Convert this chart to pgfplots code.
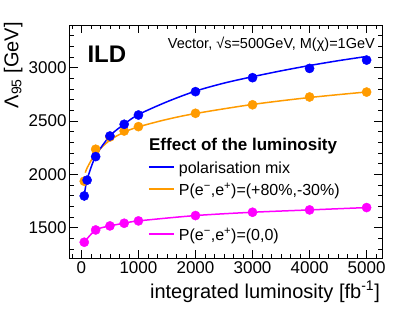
\documentclass[border=0pt]{standalone}
\usepackage{pgfplots}
\pgfplotsset{compat=1.18}
\usepackage{fontspec}
\setmainfont{Liberation Sans}
\definecolor{myblue}{RGB}{0,0,255}
\definecolor{myorange}{RGB}{255,155,0}
\definecolor{mymag}{RGB}{255,0,255}
\begin{document}
\begin{tikzpicture}
\path[use as bounding box] (-70pt,-59pt) rectangle (345pt,258pt);
\begin{axis}[
  scale only axis, width=312pt, height=233pt,
  xmin=-200, xmax=5270, ymin=1215, ymax=3400,
  xtick={-1000,0,1000,...,6000}, ytick={1000,1500,...,3500},
  minor x tick num=5, minor y tick num=4,
  major tick length=8pt, minor tick length=4pt,
  tick align=inside, tick pos=both,
  axis line style={line width=1pt},
  every tick/.style={line width=0.8pt, black},
  tick label style={font=\fontsize{17}{17}\selectfont},
  /pgf/number format/assume math mode=true,
  /pgf/number format/1000 sep={},
  xlabel={integrated luminosity [fb\textsuperscript{-1}]},
  xlabel style={at={(axis description cs:0.9936,-0.1717)}, anchor=base east, inner sep=0pt, font=\fontsize{20}{20}\selectfont},
  ylabel={Λ\textsubscript{95} [GeV]},
  ylabel style={at={(axis description cs:-0.1657,1.013)}, anchor=base east, inner sep=0pt, font=\fontsize{20}{20}\selectfont},
  legend style={draw=none, fill=none, at={(axis description cs:0.249,0.429)}, anchor=north west, inner sep=0pt,
    font=\fontsize{16}{16}\selectfont, cells={anchor=west},
    nodes={inner xsep=4pt, inner ysep=3.25pt, text height=12pt, text depth=4pt}},
]
% orange fit and points
\addplot[myorange, line width=1.5pt, smooth, forget plot] coordinates {
 (70,2015) (100,2060) (250,2195) (500,2320) (750,2395) (1000,2445) (1500,2515) (2000,2570) (3000,2655) (4000,2720) (5000,2772)};
\addplot[only marks, mark=*, mark size=4.6pt, color=myorange, forget plot] coordinates {
 (50,1935) (250,2235) (500,2350) (750,2406) (1000,2447) (2000,2572) (3000,2652) (4000,2725) (5000,2771)};
% blue fit and points
\addplot[myblue, line width=1.5pt, smooth, forget plot] coordinates {
 (50,1800) (100,1950) (250,2170) (500,2360) (750,2470) (1000,2560) (1500,2680) (2000,2780) (2500,2855) (3000,2915) (3500,2970) (4000,3020) (4500,3065) (5000,3105)};
\addplot[only marks, mark=*, mark size=4.6pt, color=myblue, forget plot] coordinates {
 (50,1797) (100,1945) (250,2166) (500,2359) (750,2469) (1000,2556) (2000,2775) (3000,2906) (4000,2993) (5000,3071)};
% magenta fit and points
\addplot[mymag, line width=1.5pt, smooth, forget plot] coordinates {
 (50,1363) (250,1478) (500,1516) (750,1541) (1000,1563) (2000,1613) (3000,1644) (4000,1666) (5000,1688)};
\addplot[only marks, mark=*, mark size=4.6pt, color=mymag, forget plot] coordinates {
 (50,1363) (250,1478) (500,1516) (750,1541) (1000,1563) (2000,1613) (3000,1644) (4000,1666) (5000,1688)};
% legend
\addlegendimage{legend image code/.code={\draw[myblue, line width=1.6pt] (0pt,0.27em) -- (25pt,0.27em);}}
\addlegendentry{polarisation mix}
\addlegendimage{legend image code/.code={\draw[draw=myorange, line width=2pt] (0pt,0.3em) -- (25pt,0.3em);}}
\addlegendentry{P(e\textsuperscript{−},e\textsuperscript{+})=(+80\%,-30\%)}
\addlegendimage{empty legend}
\addlegendentry{}
\addlegendimage{legend image code/.code={\draw[mymag, line width=1.6pt] (0pt,0.27em) -- (25pt,0.27em);}}
\addlegendentry{P(e\textsuperscript{−},e\textsuperscript{+})=(0,0)}
% texts
\node[anchor=base west, inner sep=0pt, font=\bfseries\fontsize{17}{17}\selectfont] at (axis description cs:0.253,0.4605) {Effect of the luminosity};
\node[anchor=base west, inner sep=0pt, font=\bfseries\fontsize{24}{24}\selectfont] at (axis description cs:0.0555,0.838) {ILD};
\node[anchor=base east, inner sep=0pt, font=\fontsize{14.5}{14.5}\selectfont] at (axis description cs:0.9776,0.901) {Vector, √s=500GeV, M(χ)=1GeV};
\end{axis}
\end{tikzpicture}
\end{document}
